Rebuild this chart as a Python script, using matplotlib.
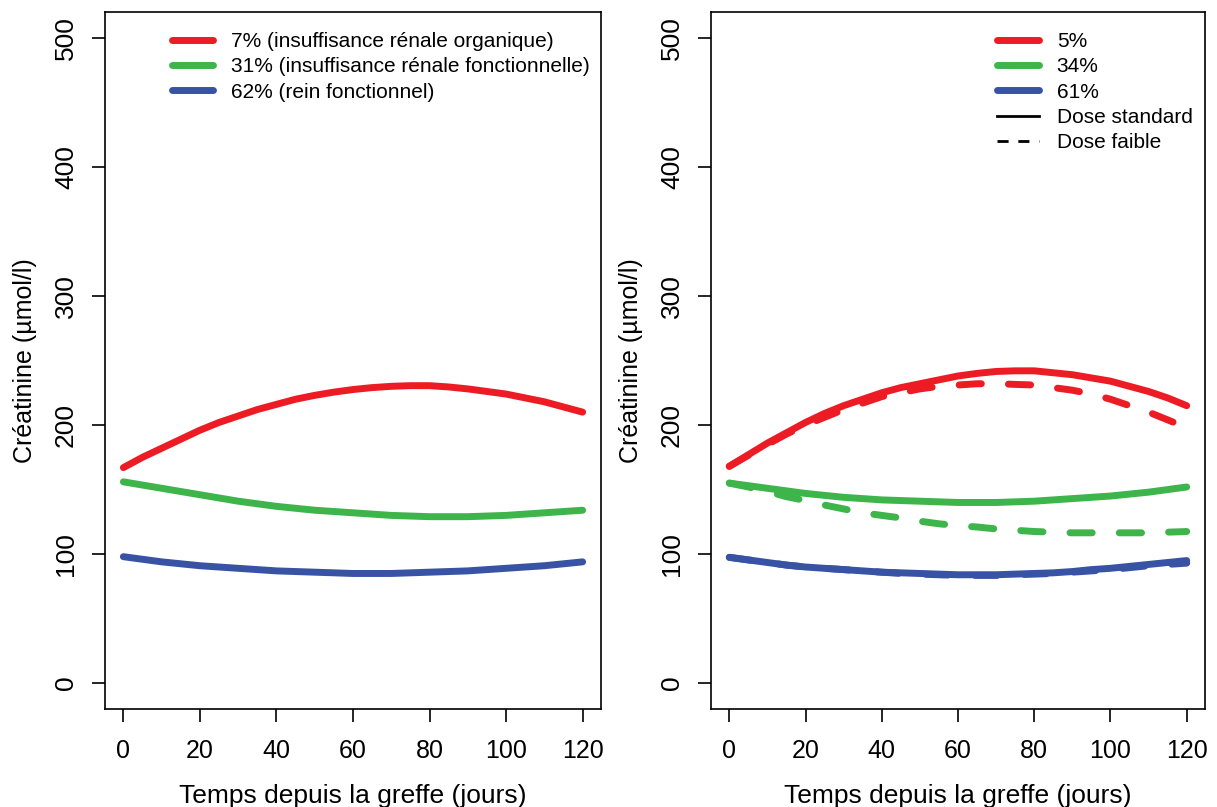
import matplotlib
matplotlib.use("Agg")
import matplotlib.pyplot as plt
from matplotlib.lines import Line2D

plt.rcParams['font.family'] = ['Liberation Sans', 'DejaVu Sans']

days = [0, 5, 10, 15, 20, 25, 30, 35, 40, 45, 50, 55, 60,
        65, 70, 75, 80, 85, 90, 95, 100, 105, 110, 115, 120]

# Left panel
left_red = [167, 175, 182, 189, 196, 202, 207, 212, 216, 220, 223, 225.5, 227.5,
            229, 230, 230.5, 230.5, 229.5, 228, 226, 224, 221, 218, 214, 210]
left_green = [156, 153.5, 151, 148.5, 146, 143.5, 141, 139, 137, 135.5, 134, 133, 132,
              131, 130, 129.5, 129, 129, 129, 129.5, 130, 131, 132, 133, 134]
left_blue = [98, 96, 94, 92.5, 91, 90, 89, 88, 87, 86.5, 86, 85.5, 85,
             85, 85, 85.5, 86, 86.5, 87, 88, 89, 90, 91, 92.5, 94]
left_labels = ["7% (insuffisance rénale organique)",
               "31% (insuffisance rénale fonctionnelle)",
               "62% (rein fonctionnel)"]

# Right panel
right_red_std = [168, 177, 186, 194, 202, 209, 215, 220, 225, 229, 232, 235, 238,
                 240, 241.5, 242, 242, 240.5, 239, 236.5, 234, 230, 226, 221, 215]
right_red_low = [168, 176.5, 185, 193, 200, 206, 212, 217, 222, 225, 228, 230, 231,
                 232, 232, 231.5, 231, 229, 227, 224, 220, 215, 210, 204, 198]
right_green_std = [155, 153, 151, 149, 147, 145.5, 144, 143, 142, 141.5, 141, 140.5, 140,
                   140, 140, 140.5, 141, 142, 143, 144, 145, 146.5, 148, 150, 152]
right_green_low = [155, 152, 148.5, 144.5, 141.5, 138, 135, 132, 130, 128, 125.5, 123.5, 122,
                   121, 119.5, 118.5, 117.5, 117, 116.5, 116.5, 116.5, 116.5, 116.5, 117, 117.5]
right_blue_std = [97.5, 95.5, 93.5, 91.5, 90, 89, 88, 87, 86, 85.5, 85, 84.5, 84,
                  84, 84, 84.5, 85, 85.5, 86.5, 88, 89, 90.5, 92, 93.5, 95]
right_blue_low = [97.5, 95.5, 93.5, 91.5, 90, 89, 88, 87, 86, 85, 84.5, 84, 83.5,
                  83.5, 83.5, 84, 84.5, 85, 86, 87, 88, 89.5, 91, 92, 93]
right_labels = ["5%", "34%", "61%", "Dose standard", "Dose faible"]

xticks = [0, 20, 40, 60, 80, 100, 120]
yticks = [0, 100, 200, 300, 400, 500]

RED = "#ED1C24"
GREEN = "#3DB54A"
BLUE = "#3853A4"
LW = 5
DASH = (0, (3.2, 3.9))

fig = plt.figure(figsize=(12.17, 8.07), dpi=100)
ax1 = fig.add_axes([105/1217, 1-709/807, (601-105)/1217, (709-12)/807])
ax2 = fig.add_axes([711/1217, 1-709/807, (1205-711)/1217, (709-12)/807])

for ax in (ax1, ax2):
    ax.set_xlim(-4.8, 124.8)
    ax.set_ylim(-20, 520)
    ax.set_xticks(xticks)
    ax.set_yticks(yticks)
    ax.tick_params(axis='both', direction='out', length=9.5, width=1.2)
    ax.tick_params(axis='x', labelsize=18, pad=12)
    ax.tick_params(axis='y', labelsize=19, pad=10)
    for lab in ax.get_yticklabels():
        lab.set_rotation(90)
        lab.set_va('center')
    for s in ax.spines.values():
        s.set_linewidth(1.2)
    ax.set_xlabel("Temps depuis la greffe (jours)", fontsize=19, labelpad=15)
    ax.set_ylabel("Créatinine (µmol/l)", fontsize=18, labelpad=12)

ax1.plot(days, left_red, color=RED, lw=LW, solid_capstyle='round', label=left_labels[0])
ax1.plot(days, left_green, color=GREEN, lw=LW, solid_capstyle='round', label=left_labels[1])
ax1.plot(days, left_blue, color=BLUE, lw=LW, solid_capstyle='round', label=left_labels[2])
ax1.legend(loc='upper left', bbox_to_anchor=(0.105, 0.992), frameon=False, fontsize=15,
           handlelength=2.0, handletextpad=0.85, labelspacing=0.3, borderaxespad=0.3)

ax2.plot(days, right_red_std, color=RED, lw=LW, solid_capstyle='round')
ax2.plot(days, right_red_low, color=RED, lw=LW, ls=DASH, dash_capstyle='round')
ax2.plot(days, right_green_std, color=GREEN, lw=LW, solid_capstyle='round')
ax2.plot(days, right_green_low, color=GREEN, lw=LW, ls=DASH, dash_capstyle='round')
ax2.plot(days, right_blue_std, color=BLUE, lw=LW, solid_capstyle='round')
ax2.plot(days, right_blue_low, color=BLUE, lw=LW, ls=DASH, dash_capstyle='round')

handles = [Line2D([], [], color=RED, lw=LW, solid_capstyle='round'),
           Line2D([], [], color=GREEN, lw=LW, solid_capstyle='round'),
           Line2D([], [], color=BLUE, lw=LW, solid_capstyle='round'),
           Line2D([], [], color='black', lw=2),
           Line2D([], [], color='black', lw=2, ls=(0, (4, 3.5)))]
ax2.legend(handles, right_labels, loc='upper left', bbox_to_anchor=(0.55, 0.992), frameon=False,
           fontsize=15, handlelength=2.0, handletextpad=0.85, labelspacing=0.3, borderaxespad=0.3)

fig.savefig("out.png", dpi=100)
